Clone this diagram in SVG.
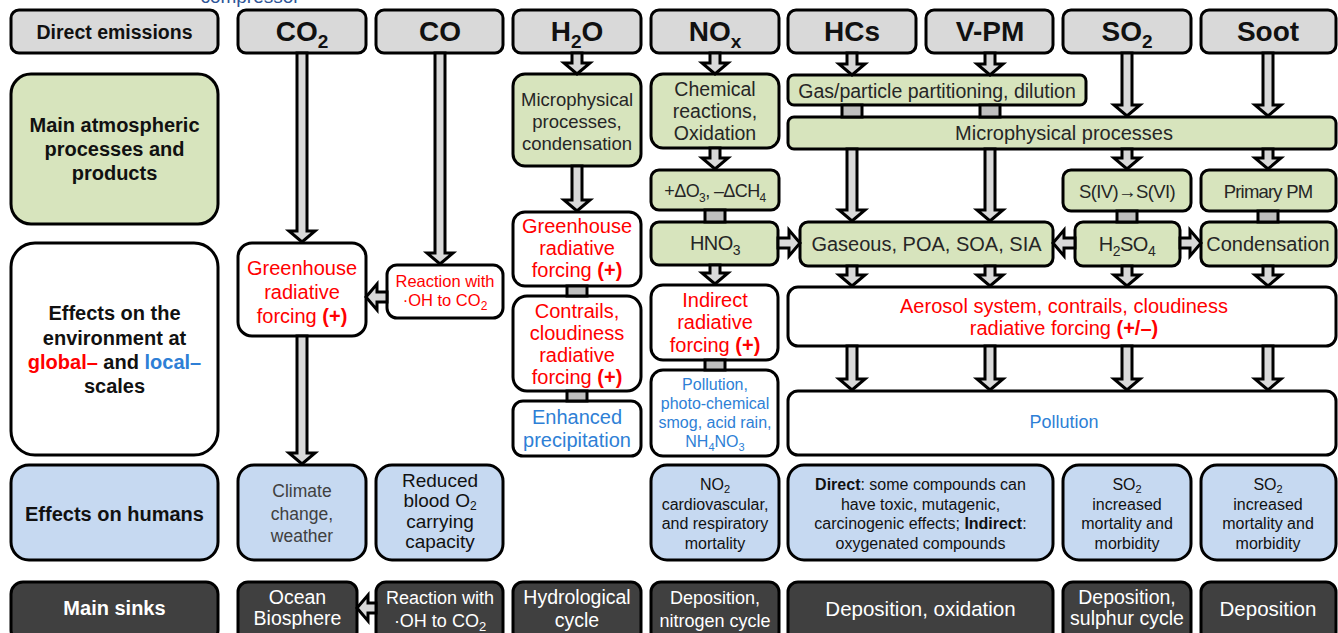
<svg xmlns="http://www.w3.org/2000/svg" width="1338" height="633" viewBox="0 0 1338 633">
<style>
text{font-family:"Liberation Sans",Arial,sans-serif;text-anchor:middle}
.n{font-family:"Liberation Sans Narrow","Liberation Sans",Arial,sans-serif;font-stretch:condensed}
.hdr{fill:#d9d9d9;stroke:#000;stroke-width:3}
.grn{fill:#d7e4bd;stroke:#000;stroke-width:3}
.wht{fill:#fff;stroke:#000;stroke-width:3}
.blu{fill:#c6d9f1;stroke:#000;stroke-width:3}
.drk{fill:#404040;stroke:#000;stroke-width:3}
.ht{font-size:28px;font-weight:bold;fill:#111}
.lb{font-size:20px;font-weight:bold;fill:#111}
.gt{font-size:20px;fill:#262626}
.rt{font-size:20px;fill:#ff0000}
.bt{fill:#2e7fd6}
.wt{fill:#fff}
.arr polygon{fill:#d9d9d9;stroke:#000;stroke-width:3;stroke-linejoin:miter}
.arr rect{fill:#bfbfbf;stroke:#000;stroke-width:3}
</style>
<text x="250" y="3" style="font-size:19px;fill:#2e5597">compressor</text>

<g id="hdr-direct"><rect class="hdr" x="11" y="10" width="207" height="43" rx="8"/><text x="114.5" y="39" style="font-size:19.5px;font-weight:bold;fill:#111">Direct emissions</text></g>
<g id="hdr-co2"><rect class="hdr" x="238" y="10" width="128" height="43" rx="8"/><text class="ht" x="302" y="41">CO<tspan font-size="19" dy="7">2</tspan></text></g>
<g id="hdr-co"><rect class="hdr" x="376" y="10" width="127" height="43" rx="8"/><text class="ht" x="440" y="41">CO</text></g>
<g id="hdr-h2o"><rect class="hdr" x="513" y="10" width="128" height="43" rx="8"/><text class="ht" x="577" y="41">H<tspan font-size="19" dy="7">2</tspan><tspan dy="-7">O</tspan></text></g>
<g id="hdr-nox"><rect class="hdr" x="651" y="10" width="128" height="43" rx="8"/><text class="ht" x="715" y="41">NO<tspan font-size="19" dy="7">x</tspan></text></g>
<g id="hdr-hcs"><rect class="hdr" x="788" y="10" width="128" height="43" rx="8"/><text class="ht" x="852" y="41">HCs</text></g>
<g id="hdr-vpm"><rect class="hdr" x="926" y="10" width="127" height="43" rx="8"/><text class="ht" x="990" y="41">V-PM</text></g>
<g id="hdr-so2"><rect class="hdr" x="1063" y="10" width="128" height="43" rx="8"/><text class="ht" x="1127" y="41">SO<tspan font-size="19" dy="7">2</tspan></text></g>
<g id="hdr-soot"><rect class="hdr" x="1201" y="10" width="135" height="43" rx="8"/><text class="ht" x="1268" y="41">Soot</text></g>

<g id="lbl-atm"><rect class="grn" x="11" y="74" width="207" height="150" rx="20"/><text class="lb" x="114.5" y="132">Main atmospheric</text><text class="lb" x="114.5" y="156">processes and</text><text class="lb" x="114.5" y="180">products</text></g>
<g id="lbl-env"><rect class="wht" x="11" y="243" width="207" height="212" rx="24"/><text class="lb" x="114.5" y="320">Effects on the</text><text class="lb" x="114.5" y="345">environment at</text><text class="lb" x="114.5" y="369"><tspan fill="#ff0000">global–</tspan> and <tspan fill="#2e7fd6">local–</tspan></text><text class="lb" x="114.5" y="393">scales</text></g>
<g id="lbl-hum"><rect class="blu" x="11" y="465" width="207" height="95" rx="18"/><text class="lb" x="114.5" y="521">Effects on humans</text></g>
<g id="lbl-sink"><rect class="drk" x="11" y="582" width="207" height="60" rx="12"/><text class="lb wt" x="114.5" y="615">Main sinks</text></g>

<g id="h2o-micro"><rect class="grn" x="513" y="74" width="128" height="92" rx="12"/><text class="gt" style="font-size:18.5px" x="577" y="106">Microphysical</text><text class="gt" style="font-size:18.5px" x="577" y="128">processes,</text><text class="gt" style="font-size:18.5px" x="577" y="150">condensation</text></g>
<g id="nox-chem"><rect class="grn" x="651" y="74" width="128" height="74" rx="12"/><text class="gt" style="font-size:19.5px" x="715" y="96">Chemical</text><text class="gt" style="font-size:19.5px" x="715" y="118">reactions,</text><text class="gt" style="font-size:19.5px" x="715" y="140">Oxidation</text></g>
<g id="nox-o3"><rect class="grn" x="651" y="170" width="128" height="40" rx="8"/><text class="gt n" style="font-size:18px;letter-spacing:-0.6px" x="715" y="197">+ΔO<tspan font-size="12" dy="5">3</tspan><tspan dy="-5">, –ΔCH</tspan><tspan font-size="12" dy="5">4</tspan></text></g>
<g id="gas-part"><rect class="grn" x="788" y="75" width="298" height="30" rx="6"/><text class="gt" style="font-size:19.5px" x="937" y="98">Gas/particle partitioning, dilution</text></g>
<g id="microphys"><rect class="grn" x="788" y="117" width="548" height="32" rx="6"/><text class="gt" x="1064" y="140">Microphysical processes</text></g>
<g id="s4s6"><rect class="grn" x="1063" y="170" width="128" height="41" rx="8"/><text class="gt n" style="font-size:18.5px;letter-spacing:-0.6px" x="1127" y="198">S(IV)→S(VI)</text></g>
<g id="primpm"><rect class="grn" x="1201" y="170" width="135" height="41" rx="8"/><text class="gt n" style="font-size:18.5px;letter-spacing:-0.8px" x="1268" y="198">Primary PM</text></g>
<g id="hno3"><rect class="grn" x="651" y="222" width="127" height="43" rx="8"/><text class="gt n" style="letter-spacing:-0.5px" x="715" y="250">HNO<tspan font-size="14" dy="5">3</tspan></text></g>
<g id="gaseous"><rect class="grn" x="800" y="222" width="253" height="44" rx="8"/><text class="gt" x="926.5" y="251">Gaseous, POA, SOA, SIA</text></g>
<g id="h2so4"><rect class="grn" x="1075" y="222" width="105" height="44" rx="8"/><text class="gt n" style="letter-spacing:-0.5px" x="1127" y="251">H<tspan font-size="14" dy="5">2</tspan><tspan dy="-5">SO</tspan><tspan font-size="14" dy="5">4</tspan></text></g>
<g id="condens"><rect class="grn" x="1201" y="222" width="135" height="44" rx="8"/><text class="gt" x="1268" y="251">Condensation</text></g>

<g id="co2-ghg"><rect class="wht" x="238" y="243" width="128" height="93" rx="14"/><text class="rt" x="302" y="275">Greenhouse</text><text class="rt" x="302" y="299">radiative</text><text class="rt" x="302" y="323">forcing <tspan font-weight="bold">(+)</tspan></text></g>
<g id="co-react"><rect class="wht" x="387" y="265" width="116" height="53" rx="10"/><text class="rt" style="font-size:16.5px" x="445" y="287">Reaction with</text><text class="rt" style="font-size:16.5px" x="445" y="306">·OH to CO<tspan font-size="12" dy="4">2</tspan></text></g>
<g id="h2o-ghg"><rect class="wht" x="513" y="212" width="128" height="74" rx="12"/><text class="rt" x="577" y="233">Greenhouse</text><text class="rt" x="577" y="255">radiative</text><text class="rt" x="577" y="277">forcing <tspan font-weight="bold">(+)</tspan></text></g>
<g id="h2o-contr"><rect class="wht" x="513" y="296" width="128" height="95" rx="14"/><text class="rt" x="577" y="318">Contrails,</text><text class="rt" x="577" y="340">cloudiness</text><text class="rt" x="577" y="362">radiative</text><text class="rt" x="577" y="384">forcing <tspan font-weight="bold">(+)</tspan></text></g>
<g id="h2o-precip"><rect class="wht" x="513" y="401" width="128" height="55" rx="10"/><text class="bt" style="font-size:20px" x="577" y="424">Enhanced</text><text class="bt" style="font-size:20px" x="577" y="447">precipitation</text></g>
<g id="nox-ind"><rect class="wht" x="651" y="285" width="127" height="75" rx="12"/><text class="rt" x="715" y="307">Indirect</text><text class="rt" x="715" y="329">radiative</text><text class="rt" x="715" y="352">forcing <tspan font-weight="bold">(+)</tspan></text></g>
<g id="nox-poll"><rect class="wht" x="651" y="370" width="127" height="86" rx="12"/><text class="bt" style="font-size:16px" x="715" y="390">Pollution,</text><text class="bt" style="font-size:16px" x="715" y="409">photo-chemical</text><text class="bt" style="font-size:16px" x="715" y="428">smog, acid rain,</text><text class="bt" style="font-size:16px" x="715" y="447">NH<tspan font-size="11" dy="4">4</tspan><tspan dy="-4">NO</tspan><tspan font-size="11" dy="4">3</tspan></text></g>
<g id="aerosol"><rect class="wht" x="788" y="287" width="548" height="59" rx="10"/><text class="rt" x="1064" y="313">Aerosol system, contrails, cloudiness</text><text class="rt" x="1064" y="335">radiative forcing <tspan font-weight="bold">(+/–)</tspan></text></g>
<g id="pollution"><rect class="wht" x="788" y="391" width="548" height="64" rx="10"/><text class="bt" style="font-size:18px" x="1064" y="428">Pollution</text></g>

<g id="hum-climate"><rect class="blu" x="238" y="465" width="128" height="95" rx="16"/><text class="n" style="font-size:17.5px;fill:#404040" x="302" y="497">Climate</text><text class="n" style="font-size:17.5px;fill:#404040" x="302" y="520">change,</text><text class="n" style="font-size:17.5px;fill:#404040" x="302" y="542">weather</text></g>
<g id="hum-blood"><rect class="blu" x="376" y="465" width="127" height="95" rx="16"/><text class="n" style="font-size:19px;fill:#111" x="440" y="487">Reduced</text><text class="n" style="font-size:19px;fill:#111" x="440" y="507">blood O<tspan font-size="12" dy="3">2</tspan></text><text class="n" style="font-size:19px;fill:#111" x="440" y="528">carrying</text><text class="n" style="font-size:19px;fill:#111" x="440" y="548">capacity</text></g>
<g id="hum-nox"><rect class="blu" x="651" y="465" width="128" height="95" rx="16"/><text class="n" style="font-size:16px;fill:#111" x="715" y="490">NO<tspan font-size="11" dy="3">2</tspan></text><text class="n" style="font-size:16px;fill:#111" x="715" y="510">cardiovascular,</text><text class="n" style="font-size:16px;fill:#111" x="715" y="529">and respiratory</text><text class="n" style="font-size:16px;fill:#111" x="715" y="549">mortality</text></g>
<g id="hum-hcs"><rect class="blu" x="788" y="465" width="265" height="95" rx="16"/><text class="n" style="font-size:16px;fill:#111" x="920.5" y="490"><tspan font-weight="bold">Direct</tspan>: some compounds can</text><text class="n" style="font-size:16px;fill:#111" x="920.5" y="510">have toxic, mutagenic,</text><text class="n" style="font-size:16px;fill:#111" x="920.5" y="529">carcinogenic effects; <tspan font-weight="bold">Indirect</tspan>:</text><text class="n" style="font-size:16px;fill:#111" x="920.5" y="549">oxygenated compounds</text></g>
<g id="hum-so2"><rect class="blu" x="1063" y="465" width="128" height="95" rx="16"/><text class="n" style="font-size:16px;fill:#111" x="1127" y="490">SO<tspan font-size="11" dy="3">2</tspan></text><text class="n" style="font-size:16px;fill:#111" x="1127" y="510">increased</text><text class="n" style="font-size:16px;fill:#111" x="1127" y="529">mortality and</text><text class="n" style="font-size:16px;fill:#111" x="1127" y="549">morbidity</text></g>
<g id="hum-soot"><rect class="blu" x="1201" y="465" width="135" height="95" rx="16"/><text class="n" style="font-size:16px;fill:#111" x="1268" y="490">SO<tspan font-size="11" dy="3">2</tspan></text><text class="n" style="font-size:16px;fill:#111" x="1268" y="510">increased</text><text class="n" style="font-size:16px;fill:#111" x="1268" y="529">mortality and</text><text class="n" style="font-size:16px;fill:#111" x="1268" y="549">morbidity</text></g>

<g id="sink-ocean"><rect class="drk" x="238" y="582" width="119" height="60" rx="10"/><text class="n wt" style="font-size:19.5px" x="297.5" y="604">Ocean</text><text class="n wt" style="font-size:19.5px" x="297.5" y="625">Biosphere</text></g>
<g id="sink-react"><rect class="drk" x="376" y="582" width="127" height="60" rx="10"/><text class="n wt" style="font-size:18px" x="440" y="604">Reaction with</text><text class="n wt" style="font-size:18px" x="440" y="627">·OH to CO<tspan font-size="13" dy="4">2</tspan></text></g>
<g id="sink-hydro"><rect class="drk" x="513" y="582" width="128" height="60" rx="10"/><text class="n wt" style="font-size:19.5px" x="577" y="604">Hydrological</text><text class="n wt" style="font-size:19.5px" x="577" y="627">cycle</text></g>
<g id="sink-nox"><rect class="drk" x="651" y="582" width="128" height="60" rx="10"/><text class="n wt" style="font-size:18px" x="715" y="604">Deposition,</text><text class="n wt" style="font-size:18px" x="715" y="627">nitrogen cycle</text></g>
<g id="sink-hcs"><rect class="drk" x="788" y="582" width="265" height="60" rx="10"/><text class="n wt" style="font-size:20.5px" x="920.5" y="616">Deposition, oxidation</text></g>
<g id="sink-so2"><rect class="drk" x="1063" y="582" width="128" height="60" rx="10"/><text class="n wt" style="font-size:19.5px" x="1127" y="604">Deposition,</text><text class="n wt" style="font-size:19.5px" x="1127" y="625">sulphur cycle</text></g>
<g id="sink-soot"><rect class="drk" x="1201" y="582" width="135" height="60" rx="10"/><text class="n wt" style="font-size:20.5px" x="1268" y="616">Deposition</text></g>

<g id="connectors" class="arr">
<polygon points="572,53 582,53 582,63 590,63 577,74 564,63 572,63"/>
<polygon points="710,53 720,53 720,63 728,63 715,74 702,63 710,63"/>
<polygon points="847,53 857,53 857,64 865,64 852,75 839,64 847,64"/>
<polygon points="985,53 995,53 995,64 1003,64 990,75 977,64 985,64"/>
<polygon points="297,53 307,53 307,231 315,231 302,242 289,231 297,231"/>
<polygon points="435,53 445,53 445,253 453,253 440,264 427,253 435,253"/>
<polygon points="1122,53 1132,53 1132,105 1140,105 1127,116 1114,105 1122,105"/>
<polygon points="1263,53 1273,53 1273,105 1281,105 1268,116 1255,105 1263,105"/>
<polygon points="572,166 582,166 582,200 590,200 577,211 564,200 572,200"/>
<polygon points="710,148 720,148 720,158 728,158 715,169 702,158 710,158"/>
<polygon points="847,149 857,149 857,210 865,210 852,221 839,210 847,210"/>
<polygon points="985,149 995,149 995,210 1003,210 990,221 977,210 985,210"/>
<polygon points="1122,149 1132,149 1132,158 1140,158 1127,169 1114,158 1122,158"/>
<polygon points="1263,149 1273,149 1273,158 1281,158 1268,169 1255,158 1263,158"/>
<polygon points="710,265 720,265 720,273 728,273 715,284 702,273 710,273"/>
<polygon points="847,266 857,266 857,275 865,275 852,286 839,275 847,275"/>
<polygon points="985,266 995,266 995,275 1003,275 990,286 977,275 985,275"/>
<polygon points="1122,266 1132,266 1132,275 1140,275 1127,286 1114,275 1122,275"/>
<polygon points="1263,266 1273,266 1273,275 1281,275 1268,286 1255,275 1263,275"/>
<polygon points="847,346 857,346 857,379 865,379 852,390 839,379 847,379"/>
<polygon points="985,346 995,346 995,379 1003,379 990,390 977,379 985,379"/>
<polygon points="1122,346 1132,346 1132,379 1140,379 1127,390 1114,379 1122,379"/>
<polygon points="1263,346 1273,346 1273,379 1281,379 1268,390 1255,379 1263,379"/>
<polygon points="297,336 307,336 307,453 315,453 302,464 289,453 297,453"/>
<polygon points="366,297 377,284 377,292 387,292 387,302 377,302 377,310"/>
<polygon points="1053,243 1064,230 1064,238 1075,238 1075,248 1064,248 1064,256"/>
<polygon points="357,608 368,595 368,603 376,603 376,613 368,613 368,621"/>
<polygon points="800,243 789,230 789,238 778,238 778,248 789,248 789,256"/>
<polygon points="1201,243 1190,230 1190,238 1180,238 1180,248 1190,248 1190,256"/>
<rect x="567" y="286" width="20" height="10"/>
<rect x="567" y="391" width="20" height="10"/>
<rect x="705" y="210" width="20" height="12"/>
<rect x="705" y="360" width="20" height="10"/>
<rect x="842" y="105" width="20" height="12"/>
<rect x="980" y="105" width="20" height="12"/>
<rect x="1117" y="211" width="20" height="11"/>
<rect x="1258" y="211" width="20" height="11"/>
</g>
</svg>
